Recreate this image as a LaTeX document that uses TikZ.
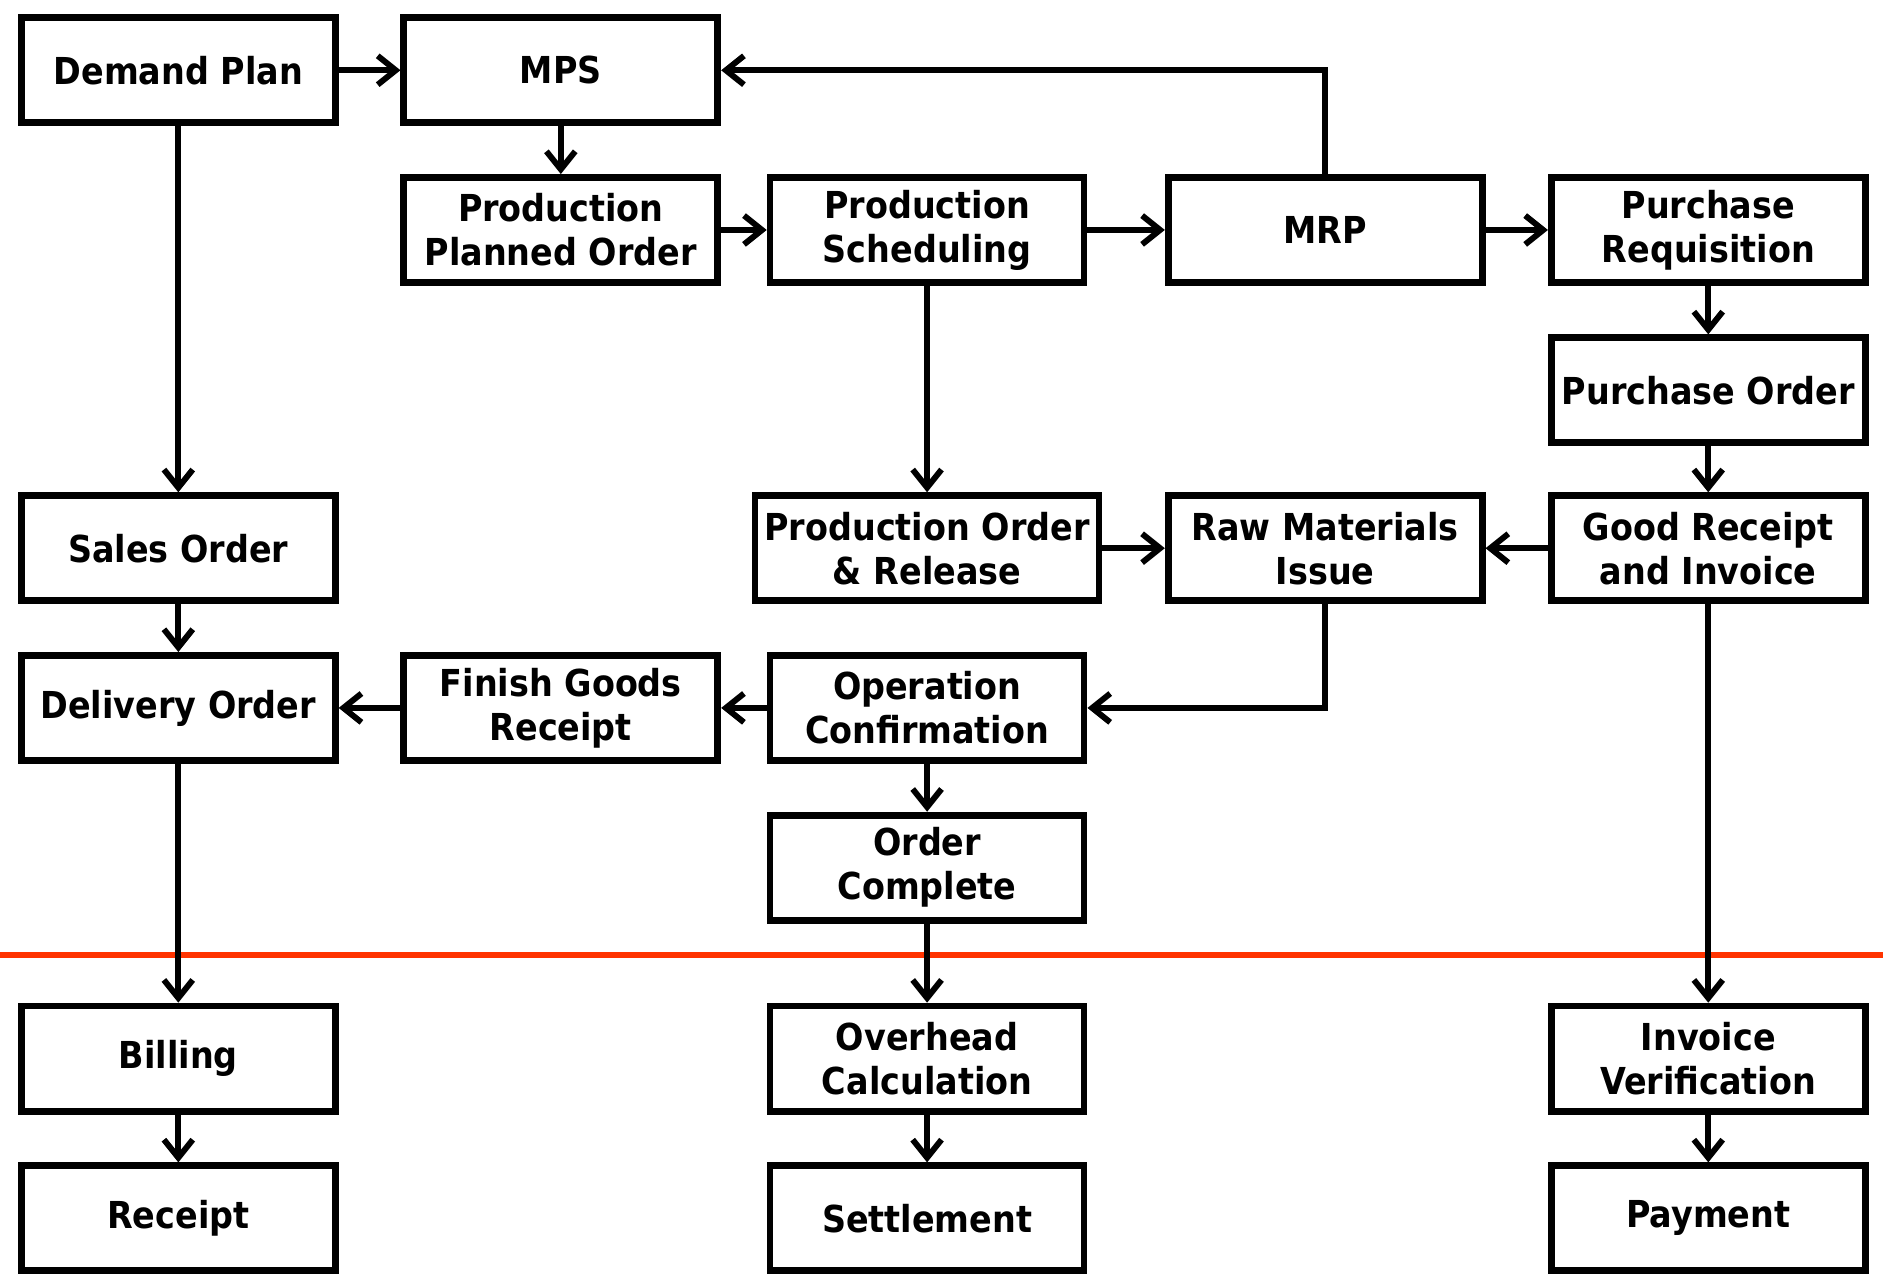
\documentclass[tikz,border=0pt]{standalone}
\usepackage{fontspec}
\usetikzlibrary{arrows.meta}
\newfontfamily\boxfont{DejaVu Sans Condensed Bold}
\definecolor{redline}{HTML}{FF3300}
\begin{document}
\begin{tikzpicture}[x=0.02cm,y=-0.02cm,
  box/.style={draw=black, line width=3.2pt, fill=white, minimum width=5.23cm, minimum height=1.75cm,
    inner sep=0pt, align=center, font=\boxfont\fontsize{17.6}{20.8}\selectfont},
  widebox/.style={box, minimum width=5.73cm},
  conn/.style={line width=2.8pt, -{Straight Barb[length=0.3cm,width=0.48cm,line width=2.8pt]}}]
\useasboundingbox (0,0) rectangle (1568,1068);
\draw[redline, line width=3pt] (0,795) -- (1568,795);

\node[box] (dp) at (148.5,58.5) {Demand Plan};
\node[box] (mps) at (467,58.5) {MPS};
\node[box] (ppo) at (467,191.5) {Production\\Planned Order};
\node[box] (ps) at (772,191.5) {Production\\Scheduling};
\node[box] (mrp) at (1103.5,191.5) {MRP};
\node[box] (pr) at (1422.5,191.5) {Purchase\\Requisition};
\node[box] (po) at (1422.5,325) {Purchase Order};
\node[box] (so) at (148.5,456.5) {Sales Order};
\node[widebox] (por) at (772,456.5) {Production Order\\\& Release};
\node[box] (rmi) at (1103.5,456.5) {Raw Materials\\Issue};
\node[box] (gri) at (1422.5,456.5) {Good Receipt\\and Invoice};
\node[box] (do) at (148.5,589.5) {Delivery Order};
\node[box] (fgr) at (467,589.5) {Finish Goods\\Receipt};
\node[box] (oc) at (772,589.5) {Operation\\Confirmation};
\node[box] (ocomp) at (772,722.5) {Order\\Complete};
\node[box] (bill) at (148.5,881.5) {Billing};
\node[box] (oh) at (772,881.5) {Overhead\\Calculation};
\node[box] (iv) at (1422.5,881.5) {Invoice\\Verification};
\node[box] (rec) at (148.5,1014.5) {Receipt};
\node[box] (set) at (772,1014.5) {Settlement};
\node[box] (pay) at (1422.5,1014.5) {Payment};

\draw[conn] (dp) -- (mps);
\draw[conn] (mps) -- (ppo);
\draw[conn] (ppo) -- (ps);
\draw[conn] (ps) -- (mrp);
\draw[conn] (mrp) -- (pr);
\draw[conn] (mrp.north) |- (mps.east);
\draw[conn] (pr) -- (po);
\draw[conn] (po) -- (gri);
\draw[conn] (gri) -- (rmi);
\draw[conn] (ps) -- (por);
\draw[conn] (por) -- (rmi);
\draw[conn] (rmi.south) |- (oc.east);
\draw[conn] (oc) -- (fgr);
\draw[conn] (fgr) -- (do);
\draw[conn] (dp) -- (so);
\draw[conn] (so) -- (do);
\draw[conn] (oc) -- (ocomp);
\draw[conn] (ocomp) -- (oh);
\draw[conn] (oh) -- (set);
\draw[conn] (do) -- (bill);
\draw[conn] (bill) -- (rec);
\draw[conn] (gri) -- (iv);
\draw[conn] (iv) -- (pay);
\end{tikzpicture}
\end{document}
